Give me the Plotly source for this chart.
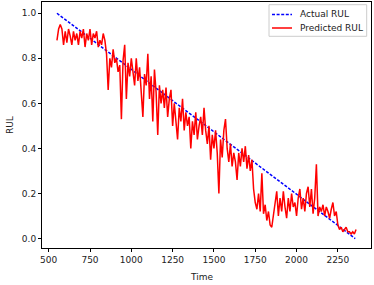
import plotly.graph_objects as go

actual_time = [550, 2355]
actual_rul = [1.0, 0.0]

pred_time = list(range(550, 2370, 10))
pred_rul = [
    0.88, 0.93, 0.95, 0.93, 0.86, 0.92, 0.87, 0.93, 0.90, 0.86,
    0.92, 0.88, 0.91, 0.86, 0.92, 0.89, 0.93, 0.85, 0.91, 0.88,
    0.93, 0.86, 0.91, 0.89, 0.92, 0.85, 0.88, 0.86, 0.91, 0.88,
    0.82, 0.66, 0.80, 0.76, 0.84, 0.78, 0.80, 0.74, 0.77, 0.53,
    0.79, 0.86, 0.62, 0.78, 0.72, 0.80, 0.74, 0.68, 0.80, 0.70,
    0.76, 0.66, 0.54, 0.73, 0.68, 0.82, 0.62, 0.72, 0.52, 0.75,
    0.65, 0.46, 0.68, 0.60, 0.66, 0.58, 0.67, 0.54, 0.62, 0.66,
    0.50, 0.60, 0.52, 0.44, 0.58, 0.52, 0.62, 0.48, 0.56, 0.50,
    0.54, 0.40, 0.52, 0.46, 0.56, 0.44, 0.50, 0.54, 0.46, 0.58,
    0.48, 0.42, 0.50, 0.35, 0.46, 0.40, 0.48, 0.38, 0.20, 0.44,
    0.36, 0.48, 0.53, 0.40, 0.34, 0.42, 0.32, 0.38, 0.34, 0.26,
    0.38, 0.32, 0.40, 0.34, 0.41, 0.31, 0.37, 0.30, 0.35, 0.22,
    0.16, 0.13, 0.20, 0.12, 0.29, 0.11, 0.15, 0.08, 0.12, 0.06,
    0.05, 0.10, 0.14, 0.21, 0.10, 0.18, 0.12, 0.21, 0.14, 0.09,
    0.18, 0.12, 0.20, 0.14, 0.16, 0.10, 0.18, 0.22, 0.13, 0.18,
    0.12, 0.20, 0.23, 0.14, 0.22, 0.11, 0.18, 0.33, 0.10, 0.14,
    0.12, 0.15, 0.10, 0.14, 0.12, 0.09, 0.13, 0.16, 0.10, 0.12,
    0.06, 0.04, 0.05, 0.03, 0.04, 0.05, 0.03, 0.03, 0.02, 0.03,
    0.02, 0.04,
]

x_ticks = [500, 750, 1000, 1250, 1500, 1750, 2000, 2250]
y_ticks = [0.0, 0.2, 0.4, 0.6, 0.8, 1.0]
series_names = ["Actual RUL", "Predicted RUL"]
series_colors = ["#0000ff", "#ff0000"]
series_dash = ["3px,1.6px", "solid"]

W, H = 374, 285
L, R, T, B = 42, 3, 2, 37
PW, PH = W - L - R, H - T - B


def px_x(p):
    return (p - L) / PW


def px_y(p):
    return 1 - (p - T) / PH


font = dict(family="DejaVu Sans", size=9, color="#222222")

fig = go.Figure()
fig.add_trace(go.Scatter(
    x=actual_time, y=actual_rul, mode="lines", name=series_names[0],
    line=dict(color=series_colors[0], width=1.5, dash=series_dash[0]),
))
fig.add_trace(go.Scatter(
    x=pred_time[:len(pred_rul)], y=pred_rul, mode="lines", name=series_names[1],
    line=dict(color=series_colors[1], width=1.5),
))

axis_common = dict(
    showline=True, linecolor="black", linewidth=1, mirror=True,
    ticks="outside", ticklen=3, tickwidth=1, tickcolor="black",
    showgrid=False, zeroline=False, tickfont=font, automargin=False,
)

# legend drawn as decoration (box, handles, labels)
shapes = [dict(
    type="rect", xref="paper", yref="paper",
    x0=px_x(269), x1=px_x(366.7), y0=px_y(36.3), y1=px_y(4.7),
    line=dict(color="#cccccc", width=1), fillcolor="rgba(255,255,255,0.8)",
    layer="above",
)]
annotations = []
for i, (name, col, dash) in enumerate(zip(series_names, series_colors, series_dash)):
    yy = px_y(14.5 + 13.5 * i)
    shapes.append(dict(
        type="line", xref="paper", yref="paper",
        x0=px_x(272), x1=px_x(292), y0=yy, y1=yy,
        line=dict(color=col, width=1.5, dash=dash), layer="above",
    ))
    annotations.append(dict(
        text=name, xref="paper", yref="paper", x=px_x(297.5), y=yy,
        xanchor="left", yanchor="middle", showarrow=False, font=font,
    ))

annotations.append(dict(
    text="RUL", xref="paper", yref="paper", x=px_x(10), y=px_y(125),
    xanchor="center", yanchor="middle", textangle=-90, showarrow=False, font=font,
))
annotations.append(dict(
    text="Time", xref="paper", yref="paper", x=px_x(201), y=px_y(277),
    xanchor="center", yanchor="middle", showarrow=False, font=font,
))

fig.update_layout(
    width=W, height=H,
    margin=dict(l=L, r=R, t=T, b=B, autoexpand=False),
    paper_bgcolor="white", plot_bgcolor="white",
    font=font,
    showlegend=False,
    hovermode=False,
    shapes=shapes,
    annotations=annotations,
    xaxis=dict(range=[459.5, 2450.5], tickvals=x_ticks,
               ticktext=[str(v) for v in x_ticks], **axis_common),
    yaxis=dict(range=[-0.042, 1.05], tickvals=y_ticks,
               ticktext=[f"{v:.1f}" for v in y_ticks], **axis_common),
)

fig.write_html(
    "out.html",
    config={"displayModeBar": False, "staticPlot": True},
    post_script="document.body.style.margin='0';document.body.style.overflow='hidden';",
)
